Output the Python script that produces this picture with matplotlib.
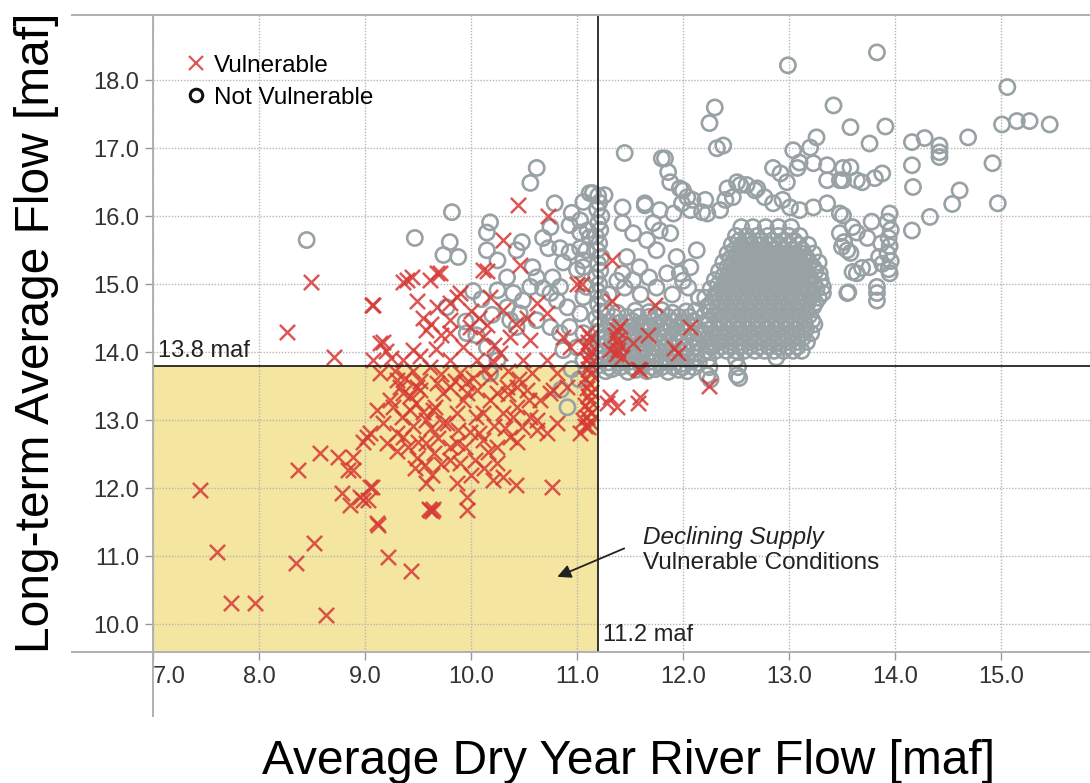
import matplotlib
matplotlib.use('Agg')
import matplotlib.pyplot as plt
from matplotlib.lines import Line2D
from matplotlib.patches import Rectangle

plt.rcParams['font.family'] = ['Liberation Sans', 'DejaVu Sans']

# Thresholds for the vulnerable region [maf]
dry_year_threshold = 11.2
long_term_threshold = 13.8

# Vulnerable traces (average dry year flow, long-term average flow)
vuln_spread = [
    (7.44, 11.97), (7.60, 11.06), (7.74, 10.31), (7.96, 10.31), (8.63, 10.13), (8.35, 10.90),
    (8.52, 11.20), (8.37, 12.26), (8.58, 12.51), (8.75, 12.46), (8.84, 12.26), (8.78, 11.93),
    (8.86, 11.75), (8.98, 11.82), (9.07, 12.01), (9.12, 11.46), (9.22, 10.99), (9.43, 10.78),
    (9.61, 11.68), (9.63, 11.66), (9.60, 11.70), (9.64, 11.69), (8.26, 14.29), (8.49, 15.03),
    (8.71, 13.93), (9.08, 14.69), (9.14, 14.13), (9.40, 15.06), (9.68, 15.16),
]
vuln_cluster = [
    (9.11, 13.15), (9.05, 12.81), (8.98, 12.68), (9.21, 12.66), (9.30, 12.81), (9.41, 12.60),
    (9.49, 12.44), (9.47, 12.29), (9.57, 12.34), (9.63, 12.19), (8.89, 12.26), (9.05, 12.01),
    (8.95, 11.87), (9.03, 11.82), (9.11, 11.49), (9.96, 11.68), (9.96, 11.87), (9.87, 12.07),
    (9.80, 12.41), (9.90, 12.37), (9.69, 12.74), (9.80, 12.60), (9.94, 12.60), (10.04, 12.41),
    (10.16, 12.53), (10.25, 12.37), (10.30, 12.16), (10.42, 12.04), (10.21, 12.12), (10.76, 12.01),
    (10.72, 12.81), (10.62, 12.85), (10.81, 12.96), (11.10, 12.90), (11.06, 13.00), (10.37, 12.75),
    (10.43, 12.68), (10.11, 12.71), (9.99, 12.82), (9.74, 12.96), (9.58, 13.00), (9.42, 13.15),
    (9.24, 13.29), (9.52, 13.44), (9.66, 13.19), (9.87, 13.10), (9.92, 13.29), (10.11, 13.10),
    (10.18, 13.29), (10.30, 13.10), (10.43, 13.19), (10.56, 13.04), (10.65, 13.29), (10.77, 13.44),
    (9.33, 13.49), (9.80, 13.49), (10.06, 13.44), (10.34, 13.49), (10.53, 13.44), (8.89, 12.46),
    (9.17, 14.15), (9.08, 13.88), (9.14, 13.69), (9.30, 13.59), (9.36, 13.88), (9.45, 14.03),
    (9.49, 13.49), (9.61, 13.78), (9.58, 14.32), (9.55, 14.51), (9.68, 14.66), (9.80, 14.72),
    (9.90, 14.87), (9.49, 14.76), (9.61, 15.06), (9.71, 15.16), (9.87, 14.81), (9.80, 14.47),
    (9.80, 14.28), (9.92, 14.07), (9.99, 14.37), (10.08, 14.51), (10.11, 14.22), (10.06, 13.88),
    (9.90, 13.69), (9.80, 13.88), (9.74, 13.40), (9.96, 13.40), (10.18, 13.63), (10.25, 13.40),
    (10.27, 13.99), (10.37, 14.22), (10.30, 14.62), (10.18, 14.81), (10.11, 15.21), (10.30, 15.65),
    (10.46, 15.28), (10.44, 16.16), (10.73, 16.01), (11.00, 15.01), (10.53, 14.51), (10.62, 14.72),
    (10.72, 14.57), (10.56, 14.18), (10.49, 13.88), (10.58, 13.69), (10.72, 13.88), (10.81, 13.69),
    (10.75, 13.40), (10.91, 13.49), (10.87, 14.22), (10.93, 14.07), (11.03, 12.81), (10.43, 13.49),
    (9.36, 13.40), (9.26, 13.19), (9.02, 12.75), (9.17, 12.96), (9.64, 13.15), (9.77, 12.96),
    (9.87, 12.66), (10.08, 12.81), (10.62, 13.00), (10.25, 12.60), (9.36, 12.75), (9.58, 12.66),
    (9.36, 15.03), (9.44, 15.10), (10.15, 15.20), (9.07, 14.69),
    (9.28, 13.72), (9.38, 13.62), (9.45, 13.72), (9.52, 13.58), (9.42, 13.35), (9.48, 13.25),
    (9.55, 13.12), (9.35, 13.05), (9.45, 12.92), (9.62, 12.88), (9.68, 13.55), (9.72, 13.68),
    (9.85, 13.58), (9.95, 13.55), (10.02, 13.62), (10.12, 13.75), (10.22, 13.85), (10.35, 13.72),
    (10.45, 13.60), (10.55, 13.30), (10.40, 13.05), (10.22, 12.92), (10.05, 13.05), (9.88, 12.85),
    (10.32, 12.88), (10.48, 12.90), (9.25, 13.92), (9.20, 14.02), (9.52, 13.95), (9.67, 14.05),
    (9.72, 14.25), (9.62, 14.42), (10.00, 14.60), (10.15, 14.40), (10.22, 14.10), (10.42, 14.42),
    (10.35, 13.38), (9.30, 12.55), (9.50, 12.68), (9.65, 12.52), (10.00, 12.20), (10.12, 12.30),
    (9.72, 12.35), (9.58, 12.08),
]
# Tight run of vulnerable traces just left of the 11.2 maf line
vuln_column = [
    (11.08, 12.92), (11.12, 12.98), (11.09, 13.05), (11.13, 13.10), (11.10, 13.16), (11.08, 13.22),
    (11.12, 13.28), (11.10, 13.35), (11.13, 13.42), (11.09, 13.48), (11.11, 13.55), (11.08, 13.62),
    (11.13, 13.68), (11.10, 13.75), (11.12, 13.82), (11.09, 13.88), (11.11, 13.95), (11.13, 14.02),
    (11.08, 14.08), (11.10, 14.15), (11.12, 14.22), (11.09, 14.28),
]
vuln_right = [
    (11.33, 15.35), (11.33, 14.76), (11.74, 14.69), (11.38, 14.32), (11.38, 14.18), (11.39, 14.03),
    (11.31, 14.03), (11.42, 13.93), (11.53, 14.13), (11.67, 14.25), (11.58, 13.76), (11.92, 14.06),
    (11.95, 13.99), (12.07, 14.37), (12.25, 13.51), (11.59, 13.34), (11.31, 13.34), (11.05, 15.01),
    (11.28, 13.25), (11.38, 13.19), (11.58, 13.25), (11.59, 13.74), (11.36, 14.25), (11.40, 14.10),
    (11.37, 13.98), (11.41, 14.38),
]

# Not vulnerable traces
safe_left = [
    (8.45, 15.65), (9.47, 15.68), (9.82, 16.06), (9.80, 15.62), (9.74, 15.43), (9.88, 15.40),
    (10.18, 15.91), (10.15, 15.76), (10.15, 15.50), (10.25, 15.35), (10.48, 15.62), (10.43, 15.50),
    (10.62, 16.71), (10.56, 16.49), (10.79, 16.19), (10.75, 15.84), (10.73, 15.53), (10.93, 15.87),
    (11.03, 15.94), (11.03, 15.76), (11.10, 15.79), (11.12, 16.34), (11.06, 16.21), (10.84, 15.53),
    (10.93, 15.47), (11.03, 15.53), (11.06, 15.35), (11.00, 15.21), (10.87, 15.32), (10.58, 15.25),
    (10.62, 15.10), (10.56, 14.96), (10.68, 14.94), (10.77, 15.10), (10.84, 14.96), (10.34, 15.10),
    (10.25, 14.91), (10.40, 14.87), (10.49, 14.76), (10.34, 14.66), (10.46, 14.57), (10.37, 14.47),
    (10.43, 14.37), (10.75, 14.87), (10.81, 14.76), (10.91, 14.66), (11.03, 14.57), (11.06, 14.81),
    (11.09, 14.96), (10.62, 14.47), (10.75, 14.37), (10.84, 14.28), (10.93, 14.37), (11.06, 14.28),
    (11.00, 14.07), (10.87, 14.03), (11.06, 13.88), (9.77, 14.66), (10.15, 14.07), (10.25, 13.88),
    (10.18, 13.69), (10.91, 13.19), (9.96, 14.28), (10.95, 16.05), (10.68, 15.68),
    (10.02, 14.90), (10.10, 14.78), (10.20, 14.55), (9.95, 14.45), (10.05, 14.25),
    (10.95, 13.75), (11.02, 13.60), (10.85, 13.45),
]
# Stack of traces sitting on the 11.2 maf line
safe_column = [
    (11.20, 13.80), (11.22, 13.90), (11.18, 14.00), (11.21, 14.10), (11.23, 14.20), (11.19, 14.30),
    (11.21, 14.40), (11.18, 14.50), (11.22, 14.60), (11.20, 14.70), (11.23, 14.80), (11.19, 14.90),
    (11.21, 15.00), (11.18, 15.10), (11.22, 15.20), (11.20, 15.30), (11.23, 15.40), (11.19, 15.50),
    (11.21, 15.60), (11.18, 15.70), (11.22, 15.80), (11.20, 15.90), (11.23, 16.00), (11.19, 16.10),
    (11.21, 16.20), (11.20, 16.30),
]
safe_upper = [
    (12.30, 17.60), (12.25, 17.37), (12.32, 17.00), (12.38, 17.04), (11.45, 16.93), (11.83, 16.85),
    (11.86, 16.65), (13.42, 17.63), (13.58, 17.31), (13.04, 16.97), (13.20, 17.01), (13.26, 17.16),
    (13.10, 16.79), (12.85, 16.71), (12.92, 16.63), (12.98, 16.50), (13.08, 16.71), (13.23, 16.78),
    (13.36, 16.75), (13.51, 16.71), (13.64, 16.53), (13.36, 16.53), (13.48, 16.53), (11.97, 16.41),
    (12.04, 16.28), (11.99, 16.19), (12.42, 16.41), (12.51, 16.50), (12.60, 16.46), (12.70, 16.41),
    (12.47, 16.28), (11.15, 16.34), (11.43, 16.13), (11.64, 16.19), (11.78, 16.09), (11.43, 15.90),
    (11.53, 15.75), (11.72, 15.90), (11.78, 15.79), (11.88, 15.75), (11.91, 16.04), (12.07, 16.09),
    (12.21, 16.24), (12.23, 16.04), (12.35, 16.09), (12.77, 16.28), (12.85, 16.19), (12.94, 16.24),
    (13.01, 16.13), (13.10, 16.09), (13.23, 16.13), (13.36, 16.19), (13.48, 16.04), (13.60, 15.84),
    (13.64, 15.16), (13.55, 14.87), (13.29, 15.16), (13.32, 14.96), (13.32, 14.87), (11.66, 15.65),
    (11.75, 15.50), (11.94, 15.40), (11.85, 15.16), (11.97, 15.16), (12.07, 15.25), (12.13, 15.50),
    (11.12, 15.69), (11.09, 15.50), (11.06, 15.25), (11.47, 15.40), (11.59, 15.25), (11.43, 15.16),
    (11.53, 15.06), (12.99, 18.22), (11.88, 16.50), (11.80, 16.85), (12.00, 16.38), (12.09, 16.24),
    (12.18, 16.06), (12.40, 16.24), (12.54, 16.46), (12.68, 16.38), (11.26, 16.31), (11.64, 16.16),
    (11.30, 14.85), (11.45, 14.95), (11.60, 14.85), (11.75, 14.95), (11.90, 14.85), (12.05, 14.95),
    (12.15, 14.80), (11.38, 15.05), (11.68, 15.10), (12.00, 15.05),
]
safe_far_right = [
    (13.83, 18.41), (15.06, 17.90), (15.01, 17.35), (15.15, 17.40), (15.27, 17.40), (15.46, 17.35),
    (13.91, 17.32), (13.76, 17.07), (14.16, 17.09), (14.28, 17.15), (14.42, 17.04), (14.42, 16.94),
    (14.42, 16.87), (14.69, 17.16), (14.92, 16.78), (14.16, 16.75), (14.17, 16.43), (14.61, 16.38),
    (14.54, 16.18), (14.97, 16.19), (14.33, 15.99), (14.16, 15.79), (13.58, 16.72), (13.51, 16.53),
    (13.69, 16.50), (13.81, 16.56), (13.88, 16.63), (13.51, 16.01), (13.64, 15.76), (13.74, 15.68),
    (13.60, 15.18), (13.69, 15.24), (13.76, 15.25), (13.56, 14.88), (13.83, 14.96), (13.83, 14.87),
    (13.83, 14.76), (13.48, 15.75), (13.52, 15.62), (13.55, 15.50), (13.50, 15.55), (13.58, 15.46),
    (13.95, 16.04), (13.93, 15.92), (13.96, 15.80), (13.94, 15.68), (13.95, 15.56), (13.93, 15.45),
    (13.96, 15.34), (13.94, 15.22), (13.95, 15.16), (13.78, 15.92), (13.87, 15.60), (13.85, 15.40),
    (13.88, 15.30),
]
# Dense mass just right of the 11.2 maf line
safe_mass_a = [
    (11.27, 13.72), (11.33, 13.75), (11.48, 13.71), (11.56, 13.74), (11.66, 13.72), (11.74, 13.75),
    (11.86, 13.71), (11.96, 13.74), (12.04, 13.72),
    (11.30, 13.85), (11.40, 13.84), (11.50, 13.86), (11.60, 13.83), (11.70, 13.86), (11.79, 13.84),
    (11.88, 13.85), (11.99, 13.83), (12.08, 13.86), (12.15, 13.84),
    (11.26, 14.00), (11.35, 13.98), (11.45, 14.01), (11.57, 13.99), (11.63, 14.02), (11.74, 13.98),
    (11.83, 14.01), (11.92, 13.99), (12.02, 14.02), (12.12, 13.98),
    (11.29, 14.15), (11.39, 14.13), (11.50, 14.16), (11.60, 14.14), (11.69, 14.17), (11.78, 14.13),
    (11.87, 14.15), (11.97, 14.14), (12.06, 14.16), (12.16, 14.13),
    (11.27, 14.30), (11.36, 14.28), (11.46, 14.31), (11.55, 14.29), (11.66, 14.32), (11.76, 14.28),
    (11.84, 14.30), (11.94, 14.29), (12.04, 14.31), (12.14, 14.28),
    (11.30, 14.45), (11.41, 14.44), (11.52, 14.46), (11.62, 14.43), (11.72, 14.46), (11.81, 14.44),
    (11.91, 14.45), (12.00, 14.43), (12.10, 14.46),
    (11.28, 14.60), (11.38, 14.58), (11.55, 14.61), (11.68, 14.59), (11.80, 14.62), (11.90, 14.58),
    (12.03, 14.60), (12.12, 14.61),
]
safe_mass_a_fill = [
    (11.30, 13.78), (11.41, 13.78), (11.52, 13.78), (11.61, 13.78), (11.71, 13.78), (11.80, 13.78),
    (11.91, 13.78), (12.00, 13.78), (12.10, 13.78),
    (11.26, 13.92), (11.36, 13.92), (11.46, 13.92), (11.55, 13.92), (11.65, 13.92), (11.75, 13.92),
    (11.84, 13.92), (11.94, 13.92), (12.04, 13.92), (12.13, 13.92),
    (11.31, 14.07), (11.41, 14.07), (11.52, 14.07), (11.61, 14.07), (11.71, 14.07), (11.80, 14.07),
    (11.90, 14.07), (12.00, 14.07), (12.10, 14.07),
    (11.25, 14.22), (11.34, 14.22), (11.44, 14.22), (11.55, 14.22), (11.64, 14.22), (11.73, 14.22),
    (11.83, 14.22), (11.92, 14.22), (12.01, 14.22), (12.11, 14.22),
    (11.32, 14.37), (11.42, 14.37), (11.51, 14.37), (11.61, 14.37), (11.70, 14.37), (11.79, 14.37),
    (11.89, 14.37), (11.99, 14.37), (12.08, 14.37),
    (11.35, 14.52), (11.47, 14.52), (11.58, 14.52), (11.68, 14.52), (11.77, 14.52), (11.86, 14.52),
    (11.96, 14.52), (12.06, 14.52),
]
# Dense mass between 12.2 and 13.3 maf
safe_mass_b = [
    (12.22, 14.02), (12.31, 14.02), (12.41, 14.02), (12.50, 14.02), (12.58, 14.02), (12.68, 14.02),
    (12.77, 14.02), (12.86, 14.02), (12.95, 14.02), (13.04, 14.02), (13.12, 14.02),
    (12.26, 14.15), (12.35, 14.15), (12.45, 14.15), (12.54, 14.15), (12.63, 14.15), (12.72, 14.15),
    (12.81, 14.15), (12.90, 14.15), (12.99, 14.15), (13.08, 14.15), (13.17, 14.15),
    (12.21, 14.28), (12.30, 14.28), (12.40, 14.28), (12.49, 14.28), (12.58, 14.28), (12.67, 14.28),
    (12.76, 14.28), (12.85, 14.28), (12.94, 14.28), (13.03, 14.28), (13.12, 14.28), (13.21, 14.28),
    (12.24, 14.41), (12.34, 14.41), (12.43, 14.41), (12.52, 14.41), (12.61, 14.41), (12.70, 14.41),
    (12.79, 14.41), (12.88, 14.41), (12.97, 14.41), (13.06, 14.41), (13.15, 14.41), (13.24, 14.41),
    (12.20, 14.54), (12.29, 14.54), (12.38, 14.54), (12.47, 14.54), (12.56, 14.54), (12.65, 14.54),
    (12.74, 14.54), (12.83, 14.54), (12.92, 14.54), (13.01, 14.54), (13.10, 14.54), (13.19, 14.54),
    (12.23, 14.67), (12.33, 14.67), (12.42, 14.67), (12.51, 14.67), (12.60, 14.67), (12.69, 14.67),
    (12.78, 14.67), (12.87, 14.67), (12.96, 14.67), (13.05, 14.67), (13.14, 14.67), (13.23, 14.67),
    (12.21, 14.80), (12.30, 14.80), (12.39, 14.80), (12.48, 14.80), (12.57, 14.80), (12.66, 14.80),
    (12.75, 14.80), (12.84, 14.80), (12.93, 14.80), (13.02, 14.80), (13.11, 14.80), (13.20, 14.80),
    (13.28, 14.80),
    (12.26, 14.93), (12.36, 14.93), (12.45, 14.93), (12.54, 14.93), (12.63, 14.93), (12.72, 14.93),
    (12.81, 14.93), (12.90, 14.93), (12.99, 14.93), (13.08, 14.93), (13.17, 14.93), (13.26, 14.93),
    (12.30, 15.06), (12.40, 15.06), (12.49, 15.06), (12.58, 15.06), (12.67, 15.06), (12.76, 15.06),
    (12.85, 15.06), (12.94, 15.06), (13.03, 15.06), (13.12, 15.06), (13.21, 15.06), (13.30, 15.06),
    (12.34, 15.19), (12.44, 15.19), (12.53, 15.19), (12.62, 15.19), (12.71, 15.19), (12.80, 15.19),
    (12.89, 15.19), (12.98, 15.19), (13.07, 15.19), (13.16, 15.19), (13.25, 15.19),
    (12.38, 15.32), (12.47, 15.32), (12.56, 15.32), (12.65, 15.32), (12.74, 15.32), (12.83, 15.32),
    (12.92, 15.32), (13.01, 15.32), (13.10, 15.32), (13.19, 15.32), (13.28, 15.32),
    (12.42, 15.45), (12.51, 15.45), (12.60, 15.45), (12.69, 15.45), (12.78, 15.45), (12.87, 15.45),
    (12.96, 15.45), (13.05, 15.45), (13.14, 15.45), (13.23, 15.45),
    (12.46, 15.58), (12.55, 15.58), (12.64, 15.58), (12.73, 15.58), (12.82, 15.58), (12.91, 15.58),
    (13.00, 15.58), (13.09, 15.58), (13.18, 15.58),
    (12.50, 15.71), (12.60, 15.71), (12.70, 15.71), (12.80, 15.71), (12.90, 15.71), (13.00, 15.71),
    (13.10, 15.71),
    (12.55, 15.84), (12.66, 15.84), (12.78, 15.84), (12.90, 15.84), (13.02, 15.84),
    (12.24, 13.90), (12.25, 13.78), (12.23, 13.66), (12.26, 13.60), (12.50, 13.90), (12.52, 13.78),
    (12.51, 13.66), (12.53, 13.62), (12.88, 13.92),
]
safe_mass_b_fill = [
    (12.26, 14.08), (12.36, 14.08), (12.45, 14.08), (12.54, 14.08), (12.63, 14.08), (12.72, 14.08),
    (12.81, 14.08), (12.90, 14.08), (12.99, 14.08), (13.08, 14.08),
    (12.23, 14.21), (12.32, 14.21), (12.41, 14.21), (12.50, 14.21), (12.59, 14.21), (12.68, 14.21),
    (12.77, 14.21), (12.86, 14.21), (12.95, 14.21), (13.04, 14.21), (13.13, 14.21),
    (12.26, 14.34), (12.35, 14.34), (12.44, 14.34), (12.53, 14.34), (12.62, 14.34), (12.71, 14.34),
    (12.80, 14.34), (12.89, 14.34), (12.98, 14.34), (13.07, 14.34), (13.16, 14.34),
    (12.24, 14.47), (12.33, 14.47), (12.42, 14.47), (12.51, 14.47), (12.60, 14.47), (12.69, 14.47),
    (12.78, 14.47), (12.87, 14.47), (12.96, 14.47), (13.05, 14.47), (13.14, 14.47), (13.22, 14.47),
    (12.26, 14.60), (12.35, 14.60), (12.44, 14.60), (12.53, 14.60), (12.62, 14.60), (12.71, 14.60),
    (12.80, 14.60), (12.89, 14.60), (12.98, 14.60), (13.07, 14.60), (13.16, 14.60),
    (12.27, 14.73), (12.37, 14.73), (12.46, 14.73), (12.55, 14.73), (12.64, 14.73), (12.73, 14.73),
    (12.82, 14.73), (12.91, 14.73), (13.00, 14.73), (13.09, 14.73), (13.18, 14.73), (13.25, 14.73),
    (12.31, 14.86), (12.40, 14.86), (12.49, 14.86), (12.58, 14.86), (12.67, 14.86), (12.76, 14.86),
    (12.85, 14.86), (12.94, 14.86), (13.03, 14.86), (13.12, 14.86), (13.22, 14.86),
    (12.33, 14.99), (12.42, 14.99), (12.51, 14.99), (12.60, 14.99), (12.69, 14.99), (12.78, 14.99),
    (12.87, 14.99), (12.96, 14.99), (13.05, 14.99), (13.14, 14.99), (13.24, 14.99),
    (12.38, 15.12), (12.47, 15.12), (12.56, 15.12), (12.65, 15.12), (12.74, 15.12), (12.83, 15.12),
    (12.92, 15.12), (13.01, 15.12), (13.10, 15.12), (13.19, 15.12),
    (12.42, 15.25), (12.51, 15.25), (12.60, 15.25), (12.69, 15.25), (12.78, 15.25), (12.87, 15.25),
    (12.96, 15.25), (13.05, 15.25), (13.14, 15.25), (13.23, 15.25),
    (12.45, 15.38), (12.54, 15.38), (12.63, 15.38), (12.72, 15.38), (12.81, 15.38), (12.90, 15.38),
    (12.99, 15.38), (13.08, 15.38), (13.17, 15.38),
    (12.49, 15.51), (12.58, 15.51), (12.67, 15.51), (12.76, 15.51), (12.85, 15.51), (12.94, 15.51),
    (13.03, 15.51), (13.12, 15.51),
    (12.53, 15.64), (12.63, 15.64), (12.73, 15.64), (12.84, 15.64), (12.95, 15.64), (13.05, 15.64),
]

x_ticks = [7.0, 8.0, 9.0, 10.0, 11.0, 12.0, 13.0, 14.0, 15.0]
y_ticks = [10.0, 11.0, 12.0, 13.0, 14.0, 15.0, 16.0, 17.0, 18.0]

red = '#D63A36'
grey = '#98A1A4'

fig = plt.figure(figsize=(10.9, 7.83), dpi=100)
ax = fig.add_axes([153 / 1090, 131 / 783, 937 / 1090, 637 / 783])
ax.set_xlim(7.0, 15.84)
ax.set_ylim(9.59, 18.96)

# Shaded region where both flows are below their thresholds
ax.add_patch(Rectangle((7.0, 9.0), dry_year_threshold - 7.0, long_term_threshold - 9.0,
                       facecolor='#F4E6A0', edgecolor='none', zorder=0))

ax.grid(True, color='#b5b5b5', linestyle=(0, (1, 1.2)), linewidth=1.0, zorder=0.5)
ax.set_axisbelow(True)

# Not vulnerable traces as open circles
for pts in [safe_left, safe_column, safe_upper, safe_far_right,
            safe_mass_a, safe_mass_a_fill, safe_mass_b, safe_mass_b_fill]:
    xs, ys = zip(*pts)
    ax.scatter(xs, ys, s=120, marker='o', facecolors='none', edgecolors=grey,
               linewidths=1.9, zorder=2)

# Vulnerable traces as crosses
for pts in [vuln_spread, vuln_cluster, vuln_column, vuln_right]:
    xs, ys = zip(*pts)
    ax.scatter(xs, ys, s=120, marker='x', color=red, alpha=0.85, linewidths=1.8, zorder=3)

# Threshold lines
ax.axhline(long_term_threshold, color='#222222', linewidth=1.3, zorder=4)
ax.axvline(dry_year_threshold, color='#222222', linewidth=1.3, zorder=4)
ax.text(7.05, long_term_threshold + 0.06, '13.8 maf', fontsize=17, color='#222222',
        va='bottom', ha='left', zorder=5)
ax.text(dry_year_threshold + 0.05, 9.84, '11.2 maf', fontsize=17, color='#222222',
        va='center', ha='left', zorder=5)

# Annotation for the shaded box
ax.annotate('', xy=(10.79, 10.68), xytext=(11.47, 11.13),
            arrowprops=dict(arrowstyle='-|>', color='#222222', lw=1.3, mutation_scale=20),
            zorder=5)
ax.text(11.62, 11.28, 'Declining Supply', fontsize=17.5, style='italic', color='#222222',
        va='center', ha='left')
ax.text(11.62, 10.90, 'Vulnerable Conditions', fontsize=17.5, color='#222222',
        va='center', ha='left')

# Ticks and labels
ax.set_xticks(x_ticks)
ax.set_yticks(y_ticks)
ax.set_xticklabels(['%.1f' % v for v in x_ticks], fontsize=17, color='#333333')
ax.set_yticklabels(['%.1f' % v for v in y_ticks], fontsize=17, color='#333333')
ax.get_xticklabels()[0].set_horizontalalignment('left')
ax.tick_params(axis='both', direction='out', length=6, width=1, color='#999999', pad=4)

for side in ['top', 'right', 'bottom', 'left']:
    ax.spines[side].set_visible(False)

# Frame lines that run past the plotting area
fig.add_artist(Line2D([72 / 1090, 1.0], [1 - 15 / 783, 1 - 15 / 783], color='#b0b0b0', linewidth=1.4))
fig.add_artist(Line2D([72 / 1090, 1.0], [1 - 652 / 783, 1 - 652 / 783], color='#b0b0b0', linewidth=1.4))
fig.add_artist(Line2D([153 / 1090, 153 / 1090], [1 - 15 / 783, 1 - 716 / 783], color='#b0b0b0', linewidth=1.4))

# Legend
handles = [
    Line2D([], [], marker='x', linestyle='none', color=red, alpha=0.85, markersize=10, markeredgewidth=1.6),
    Line2D([], [], marker='o', linestyle='none', markerfacecolor='none', markeredgecolor='#111111',
           markersize=9, markeredgewidth=2.2),
]
ax.legend(handles, ['Vulnerable', 'Not Vulnerable'], loc='upper left', bbox_to_anchor=(0.025, 0.953),
          frameon=False, fontsize=17.5, handlelength=0.8, handletextpad=0.35, labelspacing=0.42,
          borderaxespad=0)

fig.text(629 / 1090, 1 - 762 / 783, 'Average Dry Year River Flow [maf]', fontsize=34.5,
         ha='center', va='center', color='black')
fig.text(37 / 1090, 1 - 333 / 783, 'Long-term Average Flow [maf]', fontsize=34.5,
         ha='center', va='center', rotation=90, color='black')

fig.savefig('out.png', dpi=100)
